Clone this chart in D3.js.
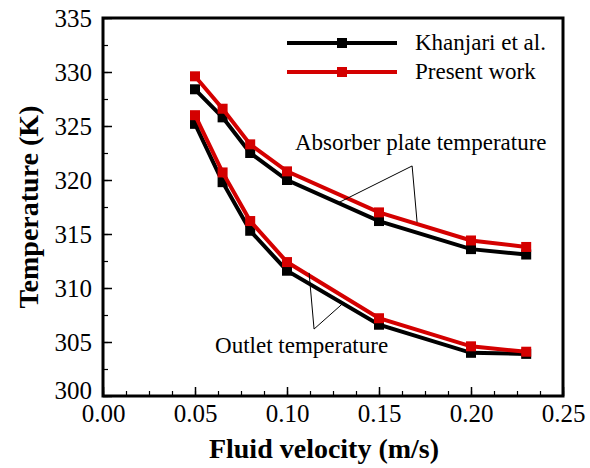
<!DOCTYPE html>
<html>
<head>
<meta charset="utf-8">
<script src="https://cdn.jsdelivr.net/npm/d3@7"></script>
<style>
  body { margin: 0; background: #fff; }
  text { font-family: "Liberation Serif", "Times New Roman", serif; }
</style>
</head>
<body>
<div id="chart"></div>
<script>
const velocity = [0.05, 0.065, 0.08, 0.1, 0.15, 0.2, 0.23];

const khanjariAbsorber = [328.4, 325.8, 322.5, 320.0, 316.2, 313.6, 313.1];
const presentAbsorber  = [329.6, 326.6, 323.3, 320.8, 317.0, 314.4, 313.8];
const khanjariOutlet   = [325.2, 319.8, 315.3, 311.6, 306.6, 304.0, 303.9];
const presentOutlet    = [326.0, 320.7, 316.2, 312.4, 307.2, 304.6, 304.1];

const xTicks = [0, 0.05, 0.1, 0.15, 0.2, 0.25];
const yTicks = [300, 305, 310, 315, 320, 325, 330, 335];

const seriesNames = ["Khanjari et al.", "Present work"];
const seriesColors = ["#000000", "#d40000"];

// annotation pointer lines in data units: [from, apex, to]
const absorberPointer = [[0.128, 317.9], [0.168, 321.3], [0.1707, 316.1]];
const outletPointer = [[0.112, 311.4], [0.1147, 306.2], [0.1299, 308.5]];

const W = 590, H = 468;
const margin = {top: 18, right: 27, bottom: 72, left: 103};

const svg = d3.select("#chart").append("svg")
    .attr("width", W)
    .attr("height", H);

const x = d3.scaleLinear().domain([0, 0.25]).range([margin.left, W - margin.right]);
const y = d3.scaleLinear().domain([300, 335]).range([H - margin.bottom, margin.top]);

const line = d3.line()
    .x(d => x(d[0]))
    .y(d => y(d[1]));

function drawSeries(values, color) {
  const pts = velocity.map((v, i) => [v, values[i]]);
  svg.append("path")
      .attr("d", line(pts))
      .attr("fill", "none")
      .attr("stroke", color)
      .attr("stroke-width", 4);
  svg.selectAll(null)
      .data(pts)
      .enter()
      .append("rect")
      .attr("x", d => x(d[0]) - 5)
      .attr("y", d => y(d[1]) - 5)
      .attr("width", 10)
      .attr("height", 10)
      .attr("fill", color);
}

drawSeries(khanjariAbsorber, seriesColors[0]);
drawSeries(khanjariOutlet, seriesColors[0]);
drawSeries(presentAbsorber, seriesColors[1]);
drawSeries(presentOutlet, seriesColors[1]);

// pointers + labels
[absorberPointer, outletPointer].forEach(p => {
  svg.append("path")
      .attr("d", line(p))
      .attr("fill", "none")
      .attr("stroke", "#000")
      .attr("stroke-width", 1);
});

svg.append("text")
    .attr("x", x(0.1043))
    .attr("y", y(322.8))
    .style("font-size", "23px")
    .text("Absorber plate temperature");

svg.append("text")
    .attr("x", x(0.0609))
    .attr("y", y(304.0))
    .style("font-size", "23px")
    .text("Outlet temperature");

// axes (ticks inward)
const xMinor = d3.range(0, 0.2501, 0.0125);
const yMinor = d3.range(300, 335.01, 2.5);

const xAxis = svg.append("g")
    .attr("transform", `translate(0,${H - margin.bottom})`)
    .call(d3.axisBottom(x).tickValues(xMinor).tickSize(-5).tickFormat(""));
xAxis.select(".domain").remove();
xAxis.selectAll("line").attr("stroke-width", 1.2);

const xMajor = svg.append("g")
    .attr("transform", `translate(0,${H - margin.bottom})`)
    .call(d3.axisBottom(x).tickValues(xTicks).tickSize(-9).tickPadding(8).tickFormat(d3.format(".2f")));
xMajor.select(".domain").remove();
xMajor.selectAll("line").attr("stroke-width", 1.5);
xMajor.selectAll("text")
    .style("font-size", "25px")
    .attr("fill", "#000")
    .attr("font-family", "Liberation Serif");

const yAxis = svg.append("g")
    .attr("transform", `translate(${margin.left},0)`)
    .call(d3.axisLeft(y).tickValues(yMinor).tickSize(-5).tickFormat(""));
yAxis.select(".domain").remove();
yAxis.selectAll("line").attr("stroke-width", 1.2);

const yMajor = svg.append("g")
    .attr("transform", `translate(${margin.left},0)`)
    .call(d3.axisLeft(y).tickValues(yTicks).tickSize(-9).tickPadding(11).tickFormat(d3.format("d")));
yMajor.select(".domain").remove();
yMajor.selectAll("line").attr("stroke-width", 1.5);
yMajor.selectAll("text")
    .style("font-size", "25px")
    .attr("fill", "#000")
    .attr("font-family", "Liberation Serif")
    .attr("dy", d => d === 300 ? "0.1em" : "0.32em");

// frame
svg.append("rect")
    .attr("x", x(0))
    .attr("y", y(335))
    .attr("width", x(0.25) - x(0))
    .attr("height", y(300) - y(335))
    .attr("fill", "none")
    .attr("stroke", "#000")
    .attr("stroke-width", 3);

// axis titles
svg.append("text")
    .attr("x", 324)
    .attr("y", 458)
    .attr("text-anchor", "middle")
    .style("font-size", "28px")
    .style("font-weight", "bold")
    .text("Fluid velocity (m/s)");

svg.append("text")
    .attr("transform", `translate(38,${(y(300) + y(335)) / 2}) rotate(-90)`)
    .attr("text-anchor", "middle")
    .style("font-size", "28px")
    .style("font-weight", "bold")
    .text("Temperature (K)");

// legend
const legend = svg.append("g");
seriesNames.forEach((name, i) => {
  const ly = 43 + i * 29;
  legend.append("line")
      .attr("x1", 287).attr("x2", 397)
      .attr("y1", ly).attr("y2", ly)
      .attr("stroke", seriesColors[i])
      .attr("stroke-width", 4);
  legend.append("rect")
      .attr("x", 337).attr("y", ly - 5)
      .attr("width", 10).attr("height", 10)
      .attr("fill", seriesColors[i]);
  legend.append("text")
      .attr("x", 415)
      .attr("y", ly + 7)
      .style("font-size", "23px")
      .text(name);
});
</script>
</body>
</html>
